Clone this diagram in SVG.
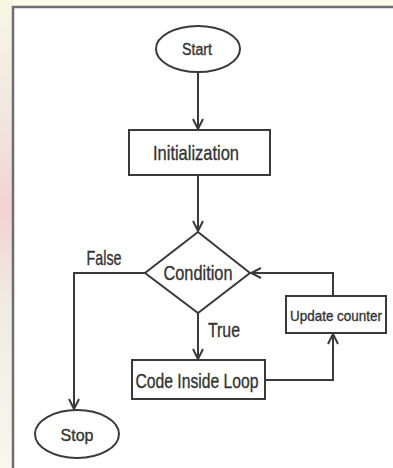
<svg xmlns="http://www.w3.org/2000/svg" width="393" height="468" viewBox="0 0 393 468">
<defs>
<style>
.shape{fill:#fff;stroke:#3a3a3a;stroke-width:2}
.line{fill:none;stroke:#3a3a3a;stroke-width:2}
.t{font-family:"Liberation Sans",Arial,sans-serif;fill:#333;stroke:#333;stroke-width:0.35;text-anchor:middle;dominant-baseline:central}
</style>
<marker id="arr" viewBox="0 0 12 12" refX="11" refY="6" markerWidth="12" markerHeight="12" markerUnits="userSpaceOnUse" orient="auto">
<path d="M1,1 L11,6 L1,11" fill="none" stroke="#3a3a3a" stroke-width="2"/>
</marker>
<linearGradient id="pink" x1="0" y1="0" x2="0" y2="1">
<stop offset="0" stop-color="#f7f7e4"/>
<stop offset="0.25" stop-color="#f1e6e0"/>
<stop offset="0.45" stop-color="#f3d2d2"/>
<stop offset="0.65" stop-color="#f0ebe3"/>
<stop offset="1" stop-color="#f7f7ee"/>
</linearGradient>
</defs>
<rect x="0" y="0" width="393" height="468" fill="#fbfbe9"/>
<rect x="0" y="0" width="12" height="468" fill="url(#pink)"/>
<rect x="13" y="7" width="380" height="461" fill="#ffffff"/>
<path d="M13,468 V7 H393" fill="none" stroke="#6e6e6e" stroke-width="2.5"/>

<g id="connectors">
<path class="line" d="M198,72 V129" marker-end="url(#arr)"/>
<path class="line" d="M198,175 V231" marker-end="url(#arr)"/>
<path class="line" d="M145,273 H74 V409" marker-end="url(#arr)"/>
<path class="line" d="M198,313 V359" marker-end="url(#arr)"/>
<path class="line" d="M265,380 H333 V334" marker-end="url(#arr)"/>
<path class="line" d="M333,296 V273 H251" marker-end="url(#arr)"/>
<text class="t" x="104" y="257" font-size="21" textLength="35" lengthAdjust="spacingAndGlyphs">False</text>
<text class="t" x="224" y="329" font-size="21" textLength="32" lengthAdjust="spacingAndGlyphs">True</text>
</g>

<g id="start">
<ellipse class="shape" cx="198" cy="49" rx="42" ry="23"/>
<text class="t" x="197" y="49" font-size="16" textLength="30" lengthAdjust="spacingAndGlyphs">Start</text>
</g>
<g id="init">
<rect class="shape" x="129" y="130" width="141" height="45"/>
<text class="t" x="196" y="152" font-size="21" textLength="86" lengthAdjust="spacingAndGlyphs">Initialization</text>
</g>
<g id="condition">
<path class="shape" d="M198,232 L250,273 L198,313 L145,273 Z"/>
<text class="t" x="198" y="272" font-size="21" textLength="69" lengthAdjust="spacingAndGlyphs">Condition</text>
</g>
<g id="code">
<rect class="shape" x="132" y="360" width="133" height="39"/>
<text class="t" x="197" y="380" font-size="21" textLength="123" lengthAdjust="spacingAndGlyphs">Code Inside Loop</text>
</g>
<g id="update">
<rect class="shape" x="286" y="296" width="100" height="37"/>
<text class="t" x="336" y="315" font-size="15" textLength="92" lengthAdjust="spacingAndGlyphs">Update counter</text>
</g>
<g id="stop">
<ellipse class="shape" cx="77" cy="434" rx="42" ry="24"/>
<text class="t" x="77" y="435" font-size="17" textLength="33" lengthAdjust="spacingAndGlyphs">Stop</text>
</g>
</svg>
